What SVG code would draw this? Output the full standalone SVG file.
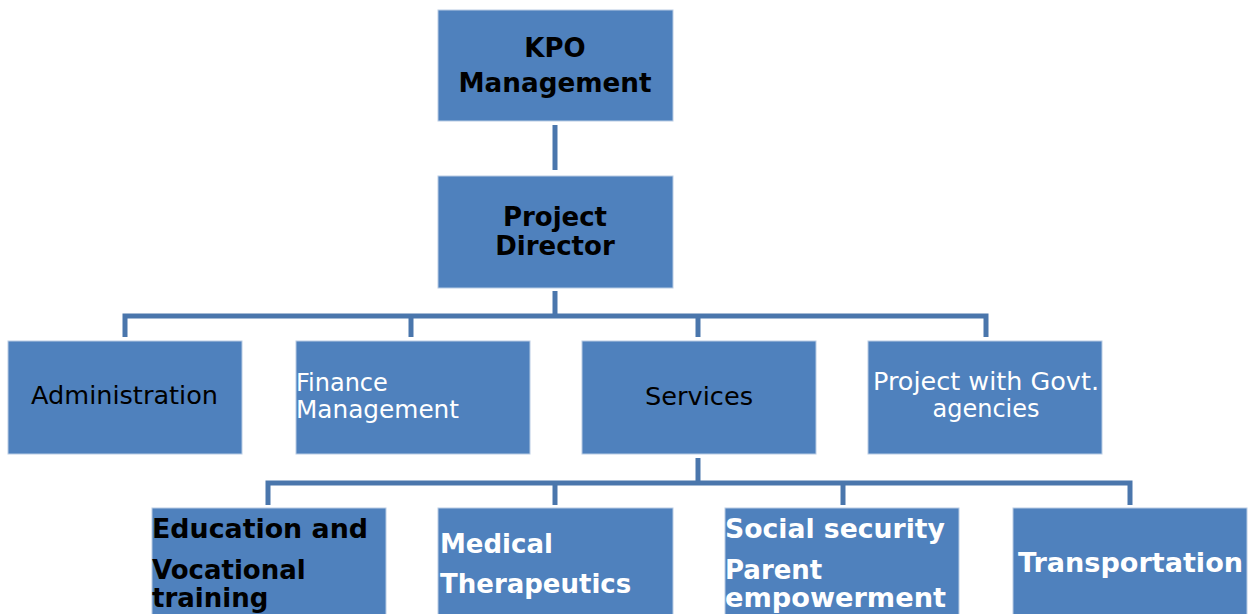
<svg xmlns="http://www.w3.org/2000/svg" width="1249" height="614" viewBox="0 0 1249 614">
<style>
.box{fill:#4F81BD;stroke:#B9CCE4;stroke-width:1}
.ln{fill:none;stroke:#4A76AC;stroke-width:5;stroke-linejoin:miter}
.b{font-family:"DejaVu Sans",Verdana,sans-serif;font-weight:bold;font-size:26px}
.r{font-family:"DejaVu Sans",Tahoma,sans-serif;font-size:24px}
.k{fill:#000}
.w{fill:#fff}
</style>
<rect width="1249" height="614" fill="#fff"/>
<g id="connectors">
<path class="ln" d="M555 125V170"/>
<path class="ln" d="M555 291V316"/>
<path class="ln" d="M125 337V316H986V337"/>
<path class="ln" d="M411 316V337"/>
<path class="ln" d="M698 316V337"/>
<path class="ln" d="M698 458V483"/>
<path class="ln" d="M268 505V483H1130V505"/>
<path class="ln" d="M555 483V505"/>
<path class="ln" d="M843 483V505"/>
</g>
<g id="kpo">
<rect class="box" x="438" y="10" width="235" height="111"/>
<text class="b k" x="555" y="57" text-anchor="middle">KPO</text>
<text class="b k" x="555" y="92" text-anchor="middle" textLength="193" lengthAdjust="spacingAndGlyphs">Management</text>
</g>
<g id="director">
<rect class="box" x="438" y="176" width="235" height="112"/>
<text class="b k" x="555" y="226" text-anchor="middle">Project</text>
<text class="b k" x="555" y="255" text-anchor="middle">Director</text>
</g>
<g id="administration">
<rect class="box" x="8" y="341" width="234" height="113"/>
<text class="r k" x="31" y="404" textLength="187" lengthAdjust="spacingAndGlyphs">Administration</text>
</g>
<g id="finance">
<rect class="box" x="296" y="341" width="234" height="113"/>
<text class="r w" x="296" y="391">Finance</text>
<text class="r w" x="296" y="418" textLength="163" lengthAdjust="spacingAndGlyphs">Management</text>
</g>
<g id="services">
<rect class="box" x="582" y="341" width="234" height="113"/>
<text class="r k" x="645" y="405" textLength="108" lengthAdjust="spacingAndGlyphs">Services</text>
</g>
<g id="govt">
<rect class="box" x="868" y="341" width="234" height="113"/>
<text class="r w" x="986" y="390" text-anchor="middle" textLength="226" lengthAdjust="spacingAndGlyphs">Project with Govt.</text>
<text class="r w" x="986" y="417" text-anchor="middle">agencies</text>
</g>
<g id="education">
<rect class="box" x="152" y="508" width="234" height="110"/>
<text class="b k" x="152" y="538" textLength="216" lengthAdjust="spacingAndGlyphs">Education and</text>
<text class="b k" x="152" y="579">Vocational</text>
<text class="b k" x="152" y="607">training</text>
</g>
<g id="medical">
<rect class="box" x="438" y="508" width="235" height="110"/>
<text class="b w" x="440" y="553">Medical</text>
<text class="b w" x="440" y="593">Therapeutics</text>
</g>
<g id="social">
<rect class="box" x="725" y="508" width="234" height="110"/>
<text class="b w" x="725" y="538" textLength="220" lengthAdjust="spacingAndGlyphs">Social security</text>
<text class="b w" x="725" y="579">Parent</text>
<text class="b w" x="725" y="607" textLength="221" lengthAdjust="spacingAndGlyphs">empowerment</text>
</g>
<g id="transportation">
<rect class="box" x="1013" y="508" width="234" height="110"/>
<text class="b w" x="1018" y="572" textLength="225" lengthAdjust="spacingAndGlyphs">Transportation</text>
</g>
</svg>
